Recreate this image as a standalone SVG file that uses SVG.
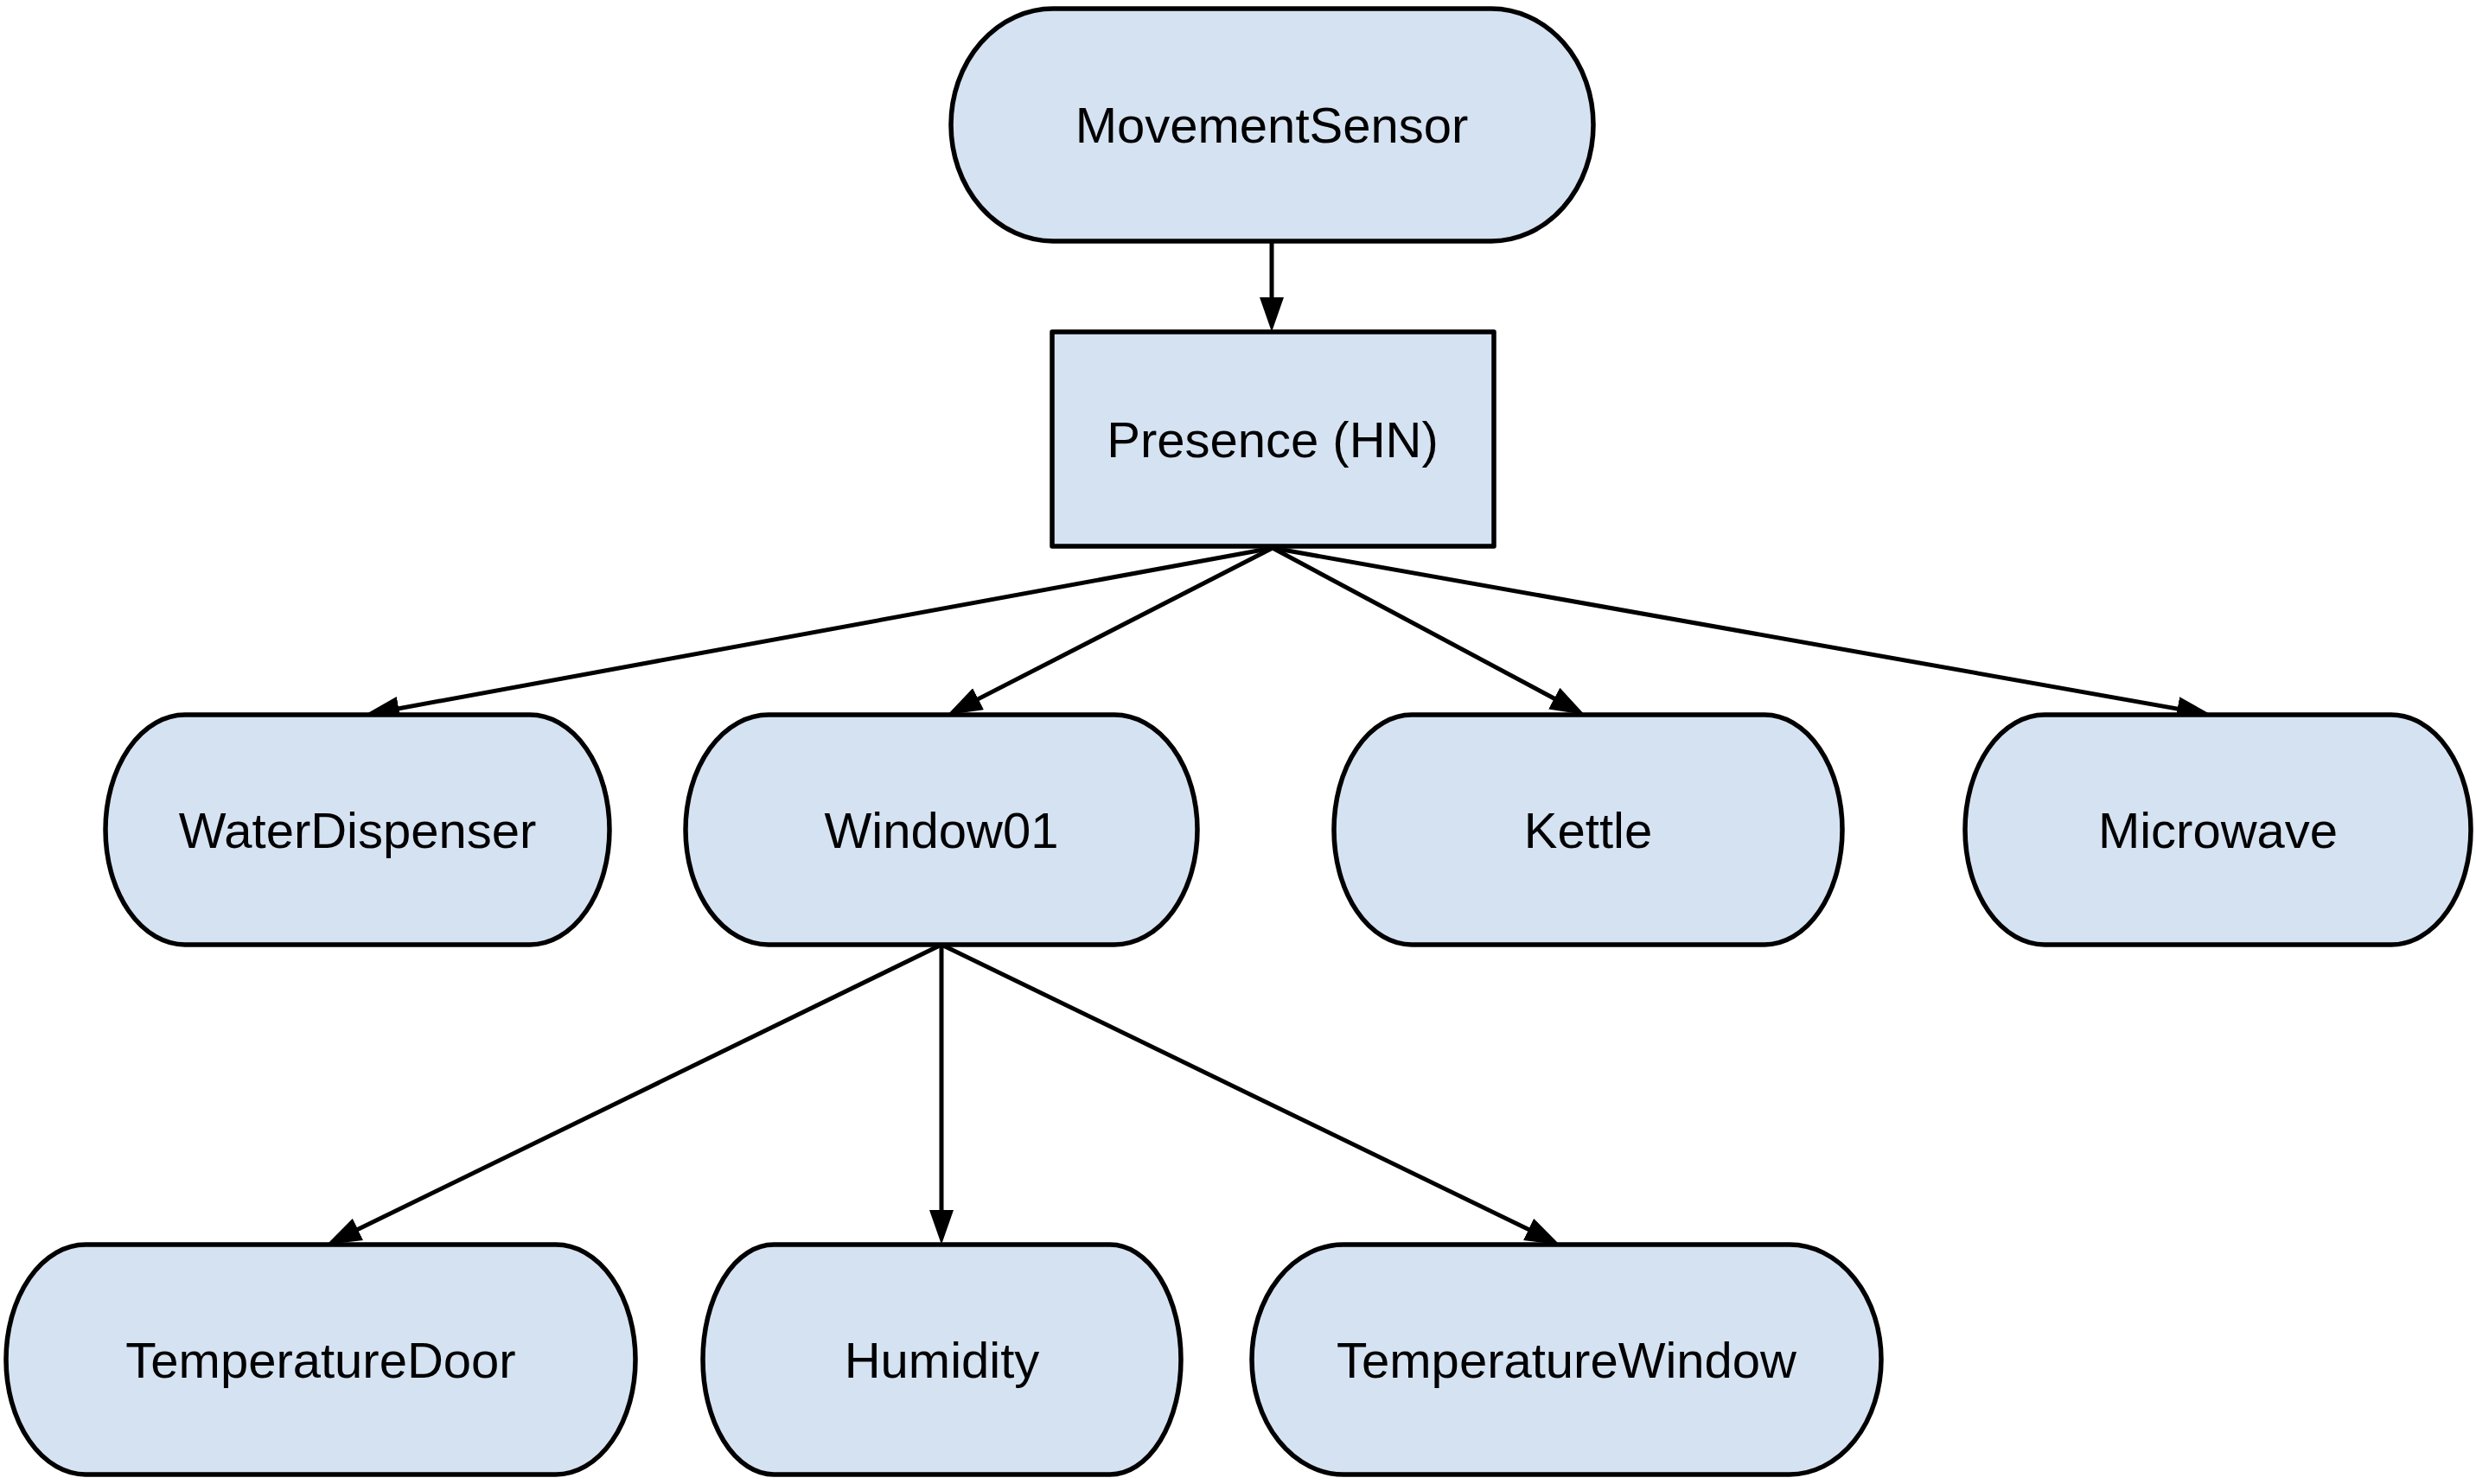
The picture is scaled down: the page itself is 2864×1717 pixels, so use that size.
<svg xmlns="http://www.w3.org/2000/svg" width="2864" height="1717" viewBox="0 0 2864 1717">
<style>
.node{fill:#d5e2f2;stroke:#000;stroke-width:5.5;stroke-linejoin:round}
.lbl{font-family:"Liberation Sans",Arial,sans-serif;font-size:58px;fill:#000;text-anchor:middle}
.edge{stroke:#000;stroke-width:5;fill:none;marker-end:url(#arr)}
</style>
<defs>
<marker id="arr" markerUnits="userSpaceOnUse" viewBox="0 0 40 28" markerWidth="40" markerHeight="28" refX="30" refY="14" orient="auto">
<path d="M0,0 L40,14 L0,28 Z" fill="#000"/>
</marker>
</defs>
<rect width="2864" height="1717" fill="#fff"/>
<g id="connectors">
<line class="edge" x1="1471" y1="279" x2="1471" y2="374"/>
<line class="edge" x1="1472" y1="634" x2="431.8" y2="825.2"/>
<line class="edge" x1="1472" y1="634" x2="1104.9" y2="822.4"/>
<line class="edge" x1="1472" y1="634" x2="1824.2" y2="822.3"/>
<line class="edge" x1="1472" y1="634" x2="2548.2" y2="825.3"/>
<line class="edge" x1="1089" y1="1093" x2="387" y2="1435.6"/>
<line class="edge" x1="1089" y1="1093" x2="1089" y2="1430"/>
<line class="edge" x1="1089" y1="1093" x2="1795" y2="1435.6"/>
</g>
<g id="MovementSensor">
<path class="node" d="M1218,10 H1725 A118,134.5 0 0 1 1725,279 H1218 A118,134.5 0 0 1 1218,10 Z"/>
<text class="lbl" x="1471" y="165">MovementSensor</text>
</g>
<g id="Presence">
<rect class="node" x="1217" y="384" width="511" height="248"/>
<text class="lbl" x="1472" y="529">Presence (HN)</text>
</g>
<g id="WaterDispenser">
<path class="node" d="M214,827 H613 A92,133 0 0 1 613,1093 H214 A92,133 0 0 1 214,827 Z"/>
<text class="lbl" x="413.5" y="981">WaterDispenser</text>
</g>
<g id="Window01">
<path class="node" d="M889,827 H1289 A96,133 0 0 1 1289,1093 H889 A96,133 0 0 1 889,827 Z"/>
<text class="lbl" x="1089" y="981">Window01</text>
</g>
<g id="Kettle">
<path class="node" d="M1633,827 H2041 A90,133 0 0 1 2041,1093 H1633 A90,133 0 0 1 1633,827 Z"/>
<text class="lbl" x="1837" y="981">Kettle</text>
</g>
<g id="Microwave">
<path class="node" d="M2365,827 H2766 A92,133 0 0 1 2766,1093 H2365 A92,133 0 0 1 2365,827 Z"/>
<text class="lbl" x="2565.5" y="981">Microwave</text>
</g>
<g id="TemperatureDoor">
<path class="node" d="M99,1440 H643 A92,133 0 0 1 643,1706 H99 A92,133 0 0 1 99,1440 Z"/>
<text class="lbl" x="371" y="1594">TemperatureDoor</text>
</g>
<g id="Humidity">
<path class="node" d="M895,1440 H1284 A82,133 0 0 1 1284,1706 H895 A82,133 0 0 1 895,1440 Z"/>
<text class="lbl" x="1089.5" y="1594">Humidity</text>
</g>
<g id="TemperatureWindow">
<path class="node" d="M1554,1440 H2070 A106,133 0 0 1 2070,1706 H1554 A106,133 0 0 1 1554,1440 Z"/>
<text class="lbl" x="1812" y="1594">TemperatureWindow</text>
</g>
</svg>
